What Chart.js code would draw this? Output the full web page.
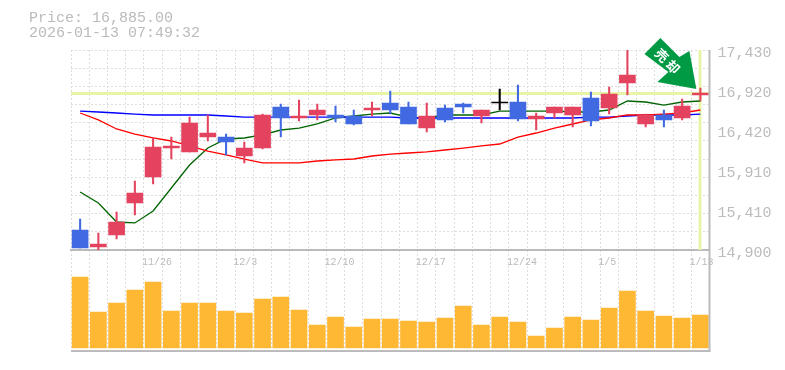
<!DOCTYPE html>
<html><head><meta charset="utf-8">
<style>
html,body{margin:0;padding:0;background:#fff}
#hdr{position:absolute;left:29px;top:11px;font:15px/15px "Liberation Mono",monospace;color:#bbb;white-space:pre}
#wrap{position:absolute;left:0;top:0;width:785px;height:370px}
</style>
<script src="https://cdn.jsdelivr.net/npm/chart.js@4"></script>
</head><body>
<div id="wrap"><canvas id="c" width="785" height="370"></canvas></div>
<div id="hdr">Price: 16,885.00
2026-01-13 07:49:32</div>
<script>
const dates=['11/20','11/21','11/24','11/25','11/26','11/27','11/28','12/1','12/2','12/3','12/4','12/5','12/8','12/9','12/10','12/11','12/12','12/15','12/16','12/17','12/18','12/19','12/22','12/23','12/24','12/25','12/26','12/29','12/30','1/5','1/6','1/7','1/8','1/9','1/13'];
const shownDates=['11/26','12/3','12/10','12/17','12/24','1/5','1/13'];
const opens=[15153,14938,15090,15495,15823,16190,16140,16329,16329,16089,16190,16709,16570,16608,16608,16595,16671,16760,16709,16443,16696,16747,16595,16760,16772,16557,16633,16608,16823,16696,17013,16494,16608,16570,16861];
const closes=[14925,14976,15254,15621,16203,16216,16507,16380,16266,16190,16608,16570,16595,16671,16570,16494,16696,16671,16494,16595,16545,16709,16671,16772,16557,16595,16709,16709,16532,16873,17114,16608,16545,16722,16886];
const highs=[15292,15115,15381,15773,16317,16329,16582,16608,16367,16266,16620,16747,16798,16747,16722,16671,16772,16911,16772,16760,16734,16760,16671,16937,16987,16633,16709,16709,16899,16962,17430,16620,16671,16810,16949];
const lows=[14925,14895,15039,15343,15735,16051,16140,16279,16102,16001,16178,16329,16532,16545,16519,16481,16595,16620,16494,16393,16519,16633,16507,16671,16532,16418,16570,16456,16469,16620,16861,16456,16456,16545,16785];
const maShort=[15634,15495,15254,15242,15393,15684,15975,16190,16304,16317,16355,16418,16443,16494,16570,16595,16620,16633,16582,16570,16608,16608,16608,16658,16658,16658,16658,16646,16646,16671,16785,16772,16734,16772,16785];
const maMid=[16658,16646,16633,16620,16608,16608,16608,16608,16595,16582,16582,16582,16582,16582,16582,16582,16582,16582,16570,16570,16570,16570,16570,16570,16570,16570,16570,16570,16582,16582,16595,16608,16608,16608,16620];
const maLong=[16633,16545,16431,16367,16317,16279,16216,16152,16102,16051,16001,16001,16001,16026,16039,16051,16089,16114,16127,16140,16165,16190,16216,16241,16329,16380,16443,16494,16545,16570,16608,16608,16620,16633,16671];
const volumes=[71000,36000,45000,58000,66000,37000,45000,45000,37000,35000,49000,51000,38000,23000,31000,21000,29000,29000,27000,26000,30000,42000,23000,31000,26000,12000,20000,31000,28000,40000,57000,37000,32000,30000,33000];
const priceLabelTicks=[14900,15410,15910,16420,16920,17430];
const priceGridTicks=[14900,15130,15360,15590,15820,16050,16280,16510,16740,16970,17200,17430];
const lastPrice=16885;
const stickerText='売却';

const UP='#e4435f',DOWN='#4169e1',DOJI='#000000',VOL='#ffb833',GRID='#dddddd',FRAME='#bbbbbb',HL='#e6f5a8',TXT='#bbbbbb';
const FONT='"Liberation Mono", monospace';
const colorOf=i=>closes[i]>opens[i]?(i===23?DOJI:UP):DOWN;
const barColors=dates.map((d,i)=>colorOf(i));

const overlay={
  id:'overlay',
  beforeDatasetsDraw(ch){
    const c=ch.ctx,a=ch.chartArea,yp=ch.scales.y,xp=ch.scales.x;
    const py=Math.round(yp.getPixelForValue(lastPrice)),px=Math.round(xp.getPixelForValue(dates.length-1));
    c.save();c.fillStyle=HL;
    c.fillRect(a.left,py-1,a.right-a.left,3);
    c.fillRect(px-1.5,a.top,3,yp.bottom-a.top);
    c.restore();
  },
  afterDraw(ch){
    const c=ch.ctx,a=ch.chartArea,yp=ch.scales.y,xp=ch.scales.x;
    c.save();c.fillStyle=FRAME;
    c.fillRect(a.left,a.bottom,a.right-a.left+1,2);
    c.fillRect(a.right-1,a.top,2,a.bottom-a.top+1);
    const tx=xp.getPixelForValue(dates.length-1)-4,ty=yp.getPixelForValue(lastPrice)-4;
    c.translate(tx,ty);
    c.fillStyle='#009944';
    c.beginPath();
    [[0,0],[-7,-38],[-17,-32],[-36,-51],[-52,-35],[-28,-17],[-39,-7]].forEach((p,i)=>i?c.lineTo(p[0],p[1]):c.moveTo(p[0],p[1]));
    c.closePath();c.fill();
    c.translate(-29,-28);c.rotate(Math.PI/4);
    c.fillStyle='#fff';c.font='bold 13px "Noto Sans CJK JP"';c.textAlign='center';c.textBaseline='middle';
    c.fillText(stickerText[0],-8,0);c.fillText(stickerText[1],8,0);
    c.restore();
  }
};

new Chart(document.getElementById('c'),{
  data:{labels:dates,datasets:[
    {type:'line',data:maLong,borderColor:'#ff0000',borderWidth:1.3,pointRadius:0,tension:0,yAxisID:'y',order:3},
    {type:'line',data:maMid,borderColor:'#0000ff',borderWidth:1.3,pointRadius:0,tension:0,yAxisID:'y',order:3},
    {type:'line',data:maShort,borderColor:'#006400',borderWidth:1.3,pointRadius:0,tension:0,yAxisID:'y',order:3},
    {type:'bar',data:dates.map((d,i)=>[opens[i],closes[i]]),backgroundColor:barColors,barThickness:16,grouped:false,yAxisID:'y',order:2},
    {type:'bar',data:dates.map((d,i)=>[lows[i],highs[i]]),backgroundColor:barColors,barThickness:1.4,grouped:false,yAxisID:'y',order:1},
    {type:'bar',data:volumes,backgroundColor:VOL,barThickness:16,grouped:false,yAxisID:'v',order:4}
  ]},
  options:{
    responsive:false,animation:false,
    layout:{padding:{left:71,top:50,bottom:20,right:0}},
    plugins:{legend:{display:false},tooltip:{enabled:false}},
    scales:{
      x:{type:'category',position:{y:14900},offset:true,
        grid:{offset:true,color:GRID,lineWidth:1,drawTicks:false},
        border:{display:true,color:FRAME,width:2,dash:[2,2]},
        ticks:{autoSkip:false,maxRotation:0,minRotation:0,align:'start',labelOffset:-11,padding:6,color:TXT,font:{family:FONT,size:10},
          callback(v){const l=this.getLabelForValue(v);return shownDates.includes(l)?l:'';}}
      },
      y:{position:'right',stack:'p',stackWeight:200,weight:1,min:14900,max:17430,
        afterBuildTicks(s){s.ticks=[...new Set([...priceGridTicks,...priceLabelTicks])].sort((a,b)=>a-b).map(value=>({value}));},
        afterFit(s){s.width=75.5;},
        grid:{color:c=>priceGridTicks.includes(c.tick.value)?GRID:'rgba(0,0,0,0)',drawTicks:false,lineWidth:1},
        border:{display:false,dash:[2,2]},
        ticks:{autoSkip:false,padding:8,labelOffset:3,color:TXT,font:{family:FONT,size:15},
          callback(v){return priceLabelTicks.includes(v)?v.toLocaleString('en-US'):'';}}
      },
      v:{position:'right',stack:'p',stackWeight:100,weight:2,min:-2000,max:98000,
        afterFit(s){s.width=75.5;},
        grid:{display:false},border:{display:false},ticks:{display:false}
      }
    }
  },
  plugins:[overlay]
});
</script>
</body></html>
